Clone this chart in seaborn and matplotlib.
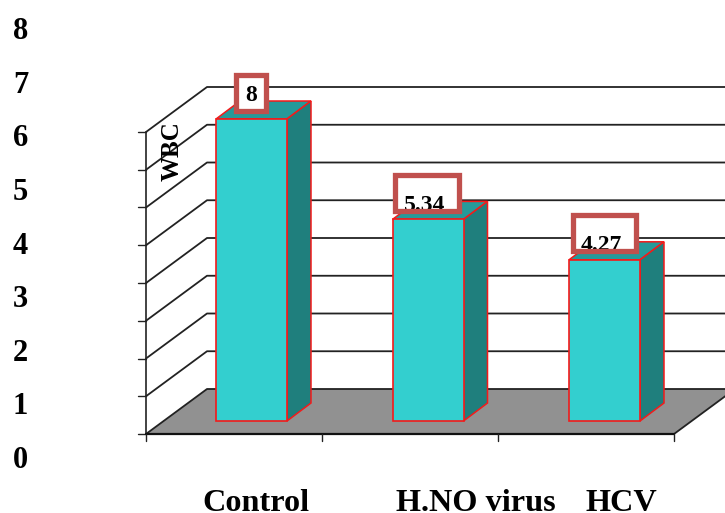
import matplotlib
matplotlib.use('Agg')
import matplotlib.pyplot as plt
import pandas as pd
import seaborn as sns
from matplotlib.patches import Polygon, Rectangle

categories = ['Control', 'H.NO virus', 'HCV']
values = [8, 5.34, 4.27]
value_labels = ['8', '5.34', '4.27']
tick_labels = ['0', '1', '2', '3', '4', '5', '6', '7', '8']
grid_levels = [0, 1, 2, 3, 4, 5, 6, 7, 8]

W, H = 725, 513
X_UNIT = 176.5
Y_UNIT = 37.75
X0_PX = 251.5
Y0_PX = 421
RED = '#f41a1a'
LINE = '#222222'


def fx(px):
    return (px - X0_PX) / X_UNIT


def fy(py):
    return (Y0_PX - py) / Y_UNIT


def main():
    sns.set_theme(style='white')
    plt.rcParams['font.family'] = ['Liberation Serif', 'DejaVu Serif']
    plt.rcParams['font.weight'] = 'bold'

    fig = plt.figure(figsize=(W / 100, H / 100), dpi=100)
    ax = fig.add_axes([0, 0, 1, 1])

    df = pd.DataFrame({'group': categories, 'value': values})
    sns.barplot(data=df, x='group', y='value', color='#33cfcf', saturation=1,
                width=71 / X_UNIT, edgecolor=RED, linewidth=1.2,
                zorder=4, ax=ax)
    ax.set_xlim(fx(0), fx(W))
    ax.set_ylim(fy(H), fy(0))
    ax.set_axis_off()

    # floor and walls
    left, right = fx(146), fx(674)
    wall_dx = 61 / X_UNIT
    front_y, back_y = fy(434), fy(389)
    ax.add_patch(Polygon([(left, front_y), (right, front_y),
                          (right + wall_dx, back_y), (left + wall_dx, back_y)],
                         facecolor='#919191', edgecolor='none', zorder=1))
    ax.plot([right, right + wall_dx], [front_y, back_y], color=LINE, lw=1.3, zorder=2)
    for lev in grid_levels:
        ax.plot([left, left + wall_dx, right + wall_dx],
                [front_y + lev, back_y + lev, back_y + lev],
                color=LINE, lw=1.3, zorder=2)
        ax.plot([fx(138), left], [front_y + lev] * 2, color=LINE, lw=1.0, zorder=2)

    # axis lines
    ax.plot([left, left], [front_y, front_y + 8], color=LINE, lw=1.2, zorder=2)
    ax.plot([left, right], [front_y, front_y], color='#111111', lw=1.6, zorder=2)
    for i in range(len(categories) + 1):
        xt = left + i * (right - left) / len(categories)
        ax.plot([xt, xt], [front_y, fy(441)], color=LINE, lw=1.0, zorder=2)

    # depth faces, built on the bars seaborn drew
    dx, dy = 24 / X_UNIT, 18 / Y_UNIT
    for bar in ax.patches:
        if not isinstance(bar, Rectangle):
            continue
        x0 = bar.get_x()
        x1 = x0 + bar.get_width()
        top = bar.get_height()
        ax.add_patch(Polygon([(x0, top), (x1, top), (x1 + dx, top + dy), (x0 + dx, top + dy)],
                             facecolor='#259a9a', edgecolor=RED, lw=1.1, zorder=3))
        ax.add_patch(Polygon([(x1, 0), (x1 + dx, dy), (x1 + dx, top + dy), (x1, top)],
                             facecolor='#1f7f7d', edgecolor=RED, lw=1.1, zorder=3))

    # value labels
    box_widths = [30, 63.5, 63]
    box_shift = [-1, -1, 0]
    box_h = 36
    for i, (val, txt, bw) in enumerate(zip(values, value_labels, box_widths)):
        cx = i + box_shift[i] / X_UNIT
        cy = val + 26.5 / Y_UNIT
        w = bw / X_UNIT
        h = box_h / Y_UNIT
        ax.add_patch(Rectangle((cx - w / 2, cy - h / 2), w, h, facecolor='white',
                               edgecolor='none', zorder=5))
        base = cy - (18 if i else 9) / Y_UNIT
        ax.text(i - (3.5 if i else 0.5) / X_UNIT, base, txt, ha='center', va='baseline',
                fontsize=17, color='black', zorder=6)
        ax.add_patch(Rectangle((cx - w / 2, cy - h / 2), w, h, facecolor='none',
                               edgecolor='#c0504d', lw=3.8, joinstyle='miter', zorder=7))

    ax.text(fx(172), fy(151), 'WBC', rotation=90, ha='center', va='center',
            fontsize=18, color='black', zorder=8)

    for i, lab in enumerate(tick_labels):
        ax.text(fx(20.5), fy(460.5 - i * 53.6), lab, ha='center', va='center',
                fontsize=22, color='black', zorder=8)

    for cat, px in zip(categories, [256, 476, 621]):
        ax.text(fx(px), fy(511), cat, ha='center', va='baseline',
                fontsize=23.2, color='black', zorder=8)

    fig.savefig('out.png', dpi=100)


if __name__ == '__main__':
    main()
